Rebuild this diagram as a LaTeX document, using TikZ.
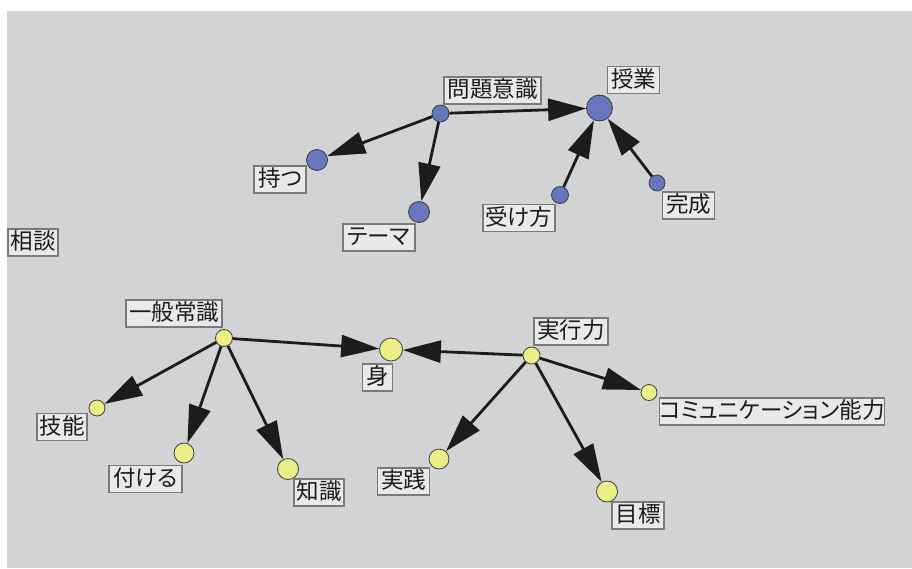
\documentclass[tikz,border=0pt]{standalone}
\usepackage{fontspec}
\newfontfamily\cjk[RawFeature=+palt]{Noto Sans CJK JP}
\usetikzlibrary{arrows.meta}
\definecolor{bg}{HTML}{D2D3D5}
\definecolor{boxfill}{HTML}{E8E9EB}
\definecolor{boxline}{HTML}{7A7A7A}
\definecolor{bluedot}{HTML}{6677BB}
\definecolor{yellowdot}{HTML}{EEEE88}
\definecolor{ink}{HTML}{1C1C1C}
\begin{document}
\begin{tikzpicture}[x=1pt,y=-1pt,
  lab/.style={draw=boxline, line width=1.5pt, fill=boxfill, text=ink,
    font=\cjk\fontsize{22.5}{22.5}\selectfont, minimum height=27pt,
    inner xsep=0pt, inner ysep=0pt, text height=18.5pt, text depth=4pt},
  bdot/.style={circle, draw=ink!85, line width=0.8pt, fill=bluedot, inner sep=0pt},
  ydot/.style={circle, draw=ink!85, line width=0.8pt, fill=yellowdot, inner sep=0pt},
  arr/.style={draw=ink, line width=2.8pt, -{Triangle[length=38pt,width=22pt]}},
]
\useasboundingbox (0,0) rectangle (912,568);
\fill[bg] (7,11) rectangle (912,568);

% blue cluster dots
\node[bdot, minimum size=17pt] (mondai) at (440.5,113.5) {};
\node[bdot, minimum size=26pt] (jugyo) at (599.5,108) {};
\node[bdot, minimum size=21pt] (motsu) at (317,160) {};
\node[bdot, minimum size=21pt] (tema) at (419,212) {};
\node[bdot, minimum size=17pt] (ukekata) at (560,195) {};
\node[bdot, minimum size=16pt] (kansei) at (657,183) {};

% yellow cluster dots
\node[ydot, minimum size=17pt] (ippan) at (224,338) {};
\node[ydot, minimum size=23pt] (mi) at (391,349.5) {};
\node[ydot, minimum size=16pt] (gino) at (97,408) {};
\node[ydot, minimum size=20pt] (tsukeru) at (184,453) {};
\node[ydot, minimum size=21pt] (chishiki) at (288,469) {};
\node[ydot, minimum size=17pt] (jikko) at (531.5,355.5) {};
\node[ydot, minimum size=16pt] (comm) at (649,392.5) {};
\node[ydot, minimum size=20pt] (jissen) at (439,459) {};
\node[ydot, minimum size=21pt] (mokuhyo) at (607,491.5) {};

% arrows
\draw[arr] (mondai) -- (motsu);
\draw[arr] (mondai) -- (tema);
\draw[arr] (mondai) -- (jugyo);
\draw[arr] (ukekata) -- (jugyo);
\draw[arr] (kansei) -- (jugyo);
\draw[arr] (ippan) -- (gino);
\draw[arr] (ippan) -- (tsukeru);
\draw[arr] (ippan) -- (chishiki);
\draw[arr] (ippan) -- (mi);
\draw[arr] (jikko) -- (mi);
\draw[arr] (jikko) -- (jissen);
\draw[arr] (jikko) -- (mokuhyo);
\draw[arr] (jikko) -- (comm);

% labels
\node[lab, minimum width=97pt] (lmondai) at (492.5,90.5) {問題意識};
\node[lab, minimum width=52pt] (ljugyo) at (633.5,80) {授業};
\node[lab, minimum width=52pt] (lmotsu) at (280,179.5) {持つ};
\node[lab, minimum width=72pt] (ltema) at (379,237.5) {テーマ};
\node[lab, minimum width=72pt] (lukekata) at (519,218) {受け方};
\node[lab, minimum width=52pt] (lkansei) at (688.5,205.5) {完成};
\node[lab, minimum width=50pt] (lsodan) at (33,242.5) {相談};
\node[lab, minimum width=96pt] (lippan) at (174,313.5) {一般常識};
\node[lab, minimum width=30pt] (lmi) at (377.5,377.5) {身};
\node[lab, minimum width=50pt] (lgino) at (62,427) {技能};
\node[lab, minimum width=73pt] (ltsukeru) at (145.5,479) {付ける};
\node[lab, minimum width=50pt] (lchishiki) at (319,492.5) {知識};
\node[lab, minimum width=74pt] (ljikko) at (571,331.5) {実行力};
\node[lab, minimum width=224pt] (lcomm) at (772,411.5) {コミュニケーション能力};
\node[lab, minimum width=52pt] (ljissen) at (403.5,481.5) {実践};
\node[lab, minimum width=52pt] (lmokuhyo) at (638,515.5) {目標};
\end{tikzpicture}
\end{document}
